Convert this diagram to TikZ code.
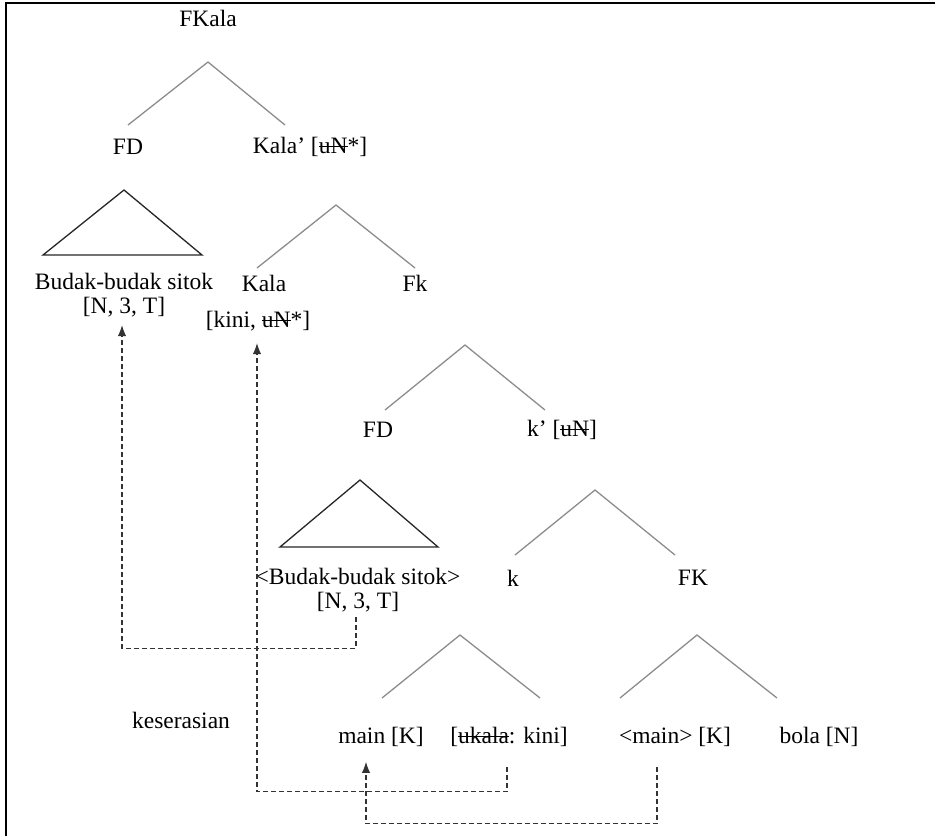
\documentclass[tikz,border=0pt]{standalone}
\usepackage{fontspec}
\setmainfont{Liberation Serif}
\usetikzlibrary{arrows.meta,calc}
% struck-through feature text
\newcommand\strk[1]{\setbox0\hbox{#1}\rlap{\raisebox{0.26em}{\rule{\wd0}{0.05em}}}\box0}

\begin{document}
\begin{tikzpicture}[x=1pt,y=-1pt,
  every node/.style={font=\fontsize{23.5}{24}\selectfont, inner sep=0pt, align=center},
  branch/.style={draw=black!45, line width=1.3pt},
  tri/.style={draw=black!85, line width=1.3pt},
  link/.style={draw=black!80, line width=1.1pt, dash pattern=on 5pt off 3pt},
  tip/.style={-{Latex[length=11pt,width=8.5pt]}}]
\useasboundingbox (0,0) rectangle (935,836);
% frame edges
\draw[line width=2pt] (6,836) -- (6,3) -- (935,3);

% labels
\node (FKala) at (208,18) {FKala};
\node (FDa) at (128,147) {FD};
\node (Kalap) at (310,147) {Kala’ [\strk{uN}*]};
\node (budakA) at (124,295) {Budak-budak sitok\\{}[N, 3, T]};
\node (Kala) at (264,283) {Kala};
\node (kini) at (258,321) {[kini, \strk{uN}*]};
\node (Fk) at (415,283) {Fk};
\node (FDb) at (378,430) {FD};
\node (kp) at (562,430) {k’ [\strk{uN}]};
\node (budakB) at (358,590) {<Budak-budak sitok>\\{}[N, 3, T]};
\node (k) at (513,578) {k};
\node (FK) at (693,578) {FK};
\node (kes) at (181,720) {keserasian};
\node (mainK) at (381,737) {main [K]};
\node (ukala) at (509,737) {[\strk{ukala}: kini]};
\node (mainB) at (675,737) {<main> [K]};
\node (bola) at (819,737) {bola [N]};

% branches
\draw[branch] (128,125) -- (208,62) -- (285,125);
\draw[branch] (257,268) -- (336,205) -- (415,268);
\draw[branch] (385,410) -- (465,345) -- (545,410);
\draw[branch] (515,555) -- (595,490) -- (675,555);
\draw[branch] (382,698) -- (460,635) -- (540,698);
\draw[branch] (620,698) -- (697,635) -- (777,698);

% triangles
\draw[tri] (124,190) -- (43,255) -- (202,255) -- cycle;
\draw[tri] (360,480) -- (280,547) -- (438,547) -- cycle;

% agreement links
\draw[link,tip] ($(budakB.south)+(-2,5)$) -- ++(0,31) -| ($(budakA.south)+(-2,8)$);
\draw[link,tip] ($(ukala.south)+(-2,20)$) -- ++(0,25) -| ($(kini.south)+(-1,12)$);
\draw[link,tip] ($(mainB.south)+(-18,20)$) -- ++(0,57) -| ($(mainK.south)+(-15,15)$);
\end{tikzpicture}
\end{document}
